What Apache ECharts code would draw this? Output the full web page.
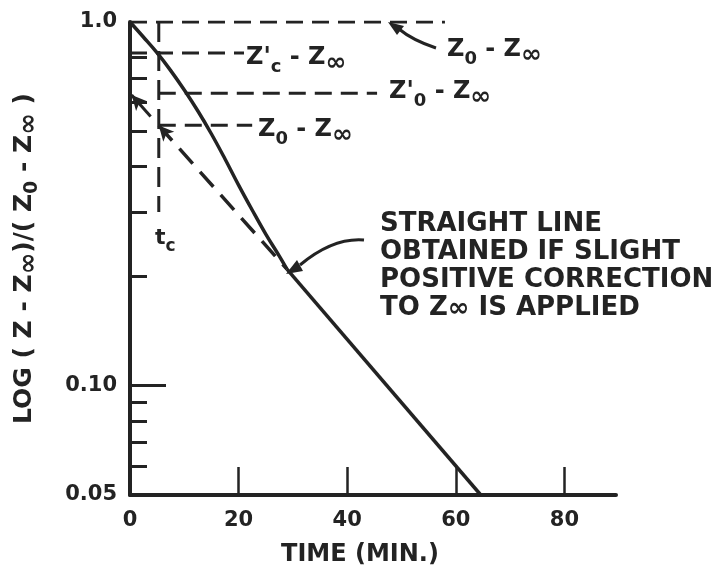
<!DOCTYPE html>
<html><head><meta charset="utf-8">
<script src="https://cdn.jsdelivr.net/npm/echarts@6/dist/echarts.min.js"></script>
<style>html,body{margin:0;padding:0;background:#fff}#c{width:727px;height:567px}</style>
</head><body><div id="c"></div>
<script>
// ---- data ----
const xTicks = [0, 20, 40, 60, 80];
const yLabelVals = [0.05, 0.1, 1.0];
const yLabelText = ['0.05', '0.10', '1.0'];
const yShortTicks = [0.06, 0.07, 0.08, 0.09, 0.2, 0.3, 0.4, 0.5, 0.6, 0.7, 0.8];
const yLongTicks = [0.1];
// measured curve (solid)
const tCurve = [0, 2.5, 5, 7.5, 10, 12.5, 15, 17.5, 20, 22.5, 25, 27.5, 28.9];
const vCurve = [1.0, 0.908, 0.822, 0.735, 0.650, 0.569, 0.492, 0.420, 0.356, 0.304, 0.261, 0.227, 0.209];
// straight-line part (solid)
const tStraight = [28.9, 64.6];
const vStraight = [0.209, 0.05];
// dashed extrapolation of straight line back to t_c
const tExtrap = [5.3, 28.9];
const vExtrap = [0.519, 0.209];
// short arrow from line to the axis (Z'0 intercept)
const tAxisArrow = [3.8, 0.3];
const vAxisArrow = [0.55, 0.63];
// horizontal reference levels
const refLevel = [1.0, 0.822, 0.637, 0.52];
const refFrom = [0, 0, 5.3, 5.3];
const refTo = [58, 21, 45.5, 22.5];
// t_c vertical
const tC = 5.3;
const tcRange = [1.0, 0.3];

// ---- chart ----
const ink = '#232323';
const FONT = 'DejaVu Sans';
const chart = echarts.init(document.getElementById('c'), null, {renderer: 'canvas'});

const series = [];
series.push({type: 'line', data: tCurve.map((t, i) => [t, vCurve[i]]), smooth: 0.4,
  symbol: 'none', lineStyle: {color: ink, width: 3.5}, silent: true});
series.push({type: 'line', data: tStraight.map((t, i) => [t, vStraight[i]]),
  symbol: 'none', lineStyle: {color: ink, width: 3.5}, silent: true});
refLevel.forEach((lv, i) => {
  series.push({type: 'line', data: [[refFrom[i], lv], [refTo[i], lv]], symbol: 'none',
    lineStyle: {color: ink, width: 3, type: [17, 9]}, silent: true});
});
series.push({type: 'line', data: [[tC, tcRange[0]], [tC, tcRange[1]]], symbol: 'none',
  lineStyle: {color: ink, width: 3, type: [20, 9]}, silent: true});
series.push({type: 'line', data: [], silent: true,
  markLine: {silent: true, animation: false, label: {show: false},
    data: [
      [{coord: [tExtrap[0], vExtrap[0]], symbol: 'arrow', symbolSize: [11, 15],
        lineStyle: {color: ink, width: 3.5, type: [20, 11]}},
       {coord: [tExtrap[1], vExtrap[1]], symbol: 'none'}],
      [{coord: [tAxisArrow[0], vAxisArrow[0]], symbol: 'none',
        lineStyle: {color: ink, width: 3, type: 'solid'}},
       {coord: [tAxisArrow[1], vAxisArrow[1]], symbol: 'arrow', symbolSize: [11, 15]}]
    ]}});

const mainRich = (size) => ({
  z: {fontFamily: FONT, fontWeight: 'bold', fontSize: size, lineHeight: size + 12, verticalAlign: 'middle', fill: ink},
  s: {fontFamily: FONT, fontWeight: 'bold', fontSize: Math.round(size * 0.75), lineHeight: size + 12, verticalAlign: 'bottom', fill: ink},
  i: {fontFamily: FONT, fontWeight: 'bold', fontSize: Math.round(size * 1.05), lineHeight: size + 12, verticalAlign: 'bottom', fill: ink}
});

function label(x, y, text, size) {
  return {type: 'text', x: x, y: y, silent: true,
    style: {text: text, rich: mainRich(size), fill: ink, verticalAlign: 'middle', align: 'left'}};
}
function arrowHead(tip, base1, base2) {
  return {type: 'polygon', silent: true, shape: {points: [tip, base1, base2]}, style: {fill: ink}};
}

const option = {
  animation: false,
  backgroundColor: '#fff',
  grid: {left: 130, top: 22, width: 486, height: 473, containLabel: false, outerBoundsMode: 'none'},
  xAxis: {
    type: 'value', min: 0, max: 89.5,
    name: 'TIME (MIN.)', nameLocation: 'middle', nameGap: 48,
    nameTextStyle: {fontFamily: FONT, fontWeight: 'bold', fontSize: 24, color: ink, padding: [0, 26, 0, 0]},
    axisLine: {onZero: false, lineStyle: {color: ink, width: 4}},
    axisTick: {inside: true, length: 28, customValues: xTicks.slice(1), lineStyle: {color: ink, width: 2.5}},
    axisLabel: {customValues: xTicks, margin: 15, fontFamily: FONT, fontWeight: 'bold', fontSize: 21, color: ink},
    splitLine: {show: false}
  },
  yAxis: [{
    type: 'log', logBase: 10, min: 0.05, max: 1.0,
    name: 'LOG ( Z - Z{i|∞})/( Z{s|0} - Z{i|∞} )', nameLocation: 'middle', nameRotate: 90, nameGap: 88,
    nameTextStyle: {fontFamily: FONT, fontWeight: 'bold', fontSize: 25, color: ink,
      rich: {
        s: {fontFamily: FONT, fontWeight: 'bold', fontSize: 19, color: ink, verticalAlign: 'bottom', lineHeight: 36},
        i: {fontFamily: FONT, fontWeight: 'bold', fontSize: 26, color: ink, verticalAlign: 'bottom', lineHeight: 36}
      }},
    axisLine: {lineStyle: {color: ink, width: 4}},
    axisTick: {inside: true, length: 17, customValues: yShortTicks, lineStyle: {color: ink, width: 3}},
    axisLabel: {customValues: yLabelVals, margin: 13, fontFamily: FONT, fontWeight: 'bold', fontSize: 21, color: ink,
      formatter: (v) => { const i = yLabelVals.findIndex(q => Math.abs(q - v) < 1e-9); return i >= 0 ? yLabelText[i] : ''; }},
    splitLine: {show: false}, minorTick: {show: false}
  }, {
    type: 'log', logBase: 10, min: 0.05, max: 1.0, position: 'left',
    axisLine: {show: false},
    axisTick: {inside: true, length: 36, customValues: yLongTicks, lineStyle: {color: ink, width: 3}},
    axisLabel: {show: false}, splitLine: {show: false}
  }],
  series: series,
  graphic: [
    // top arrow to Z0-Zinf level
    {type: 'bezierCurve', silent: true, shape: {x1: 436, y1: 48, x2: 399, y2: 29, cpx1: 415, cpy1: 41, cpx2: 405, cpy2: 34},
      style: {stroke: ink, lineWidth: 3, fill: null}},
    arrowHead([388, 22], [404, 26], [397, 35]),
    // arrow to the junction
    {type: 'bezierCurve', silent: true, shape: {x1: 364, y1: 240, x2: 300, y2: 265, cpx1: 340, cpy1: 238, cpx2: 318, cpy2: 250},
      style: {stroke: ink, lineWidth: 3, fill: null}},
    arrowHead([286, 274], [303, 271], [297, 260]),
    label(447, 50, "{z|Z}{s|0}{z| - Z}{i|∞}", 24),
    label(246, 58, "{z|Z'}{s|c}{z| - Z}{i|∞}", 24),
    label(389, 92, "{z|Z'}{s|0}{z| - Z}{i|∞}", 24),
    label(258, 130, "{z|Z}{s|0}{z| - Z}{i|∞}", 24),
    label(155, 238, "{z|t}{s|c}", 22),
    {type: 'text', x: 380, y: 210, silent: true,
      style: {text: "{z|STRAIGHT LINE}\n{z|OBTAINED IF SLIGHT}\n{z|POSITIVE CORRECTION}\n{z|TO Z}{i|∞}{z| IS APPLIED}",
        rich: {
          z: {fontFamily: FONT, fontWeight: 'bold', fontSize: 26, lineHeight: 28, verticalAlign: 'middle', fill: ink},
          i: {fontFamily: FONT, fontWeight: 'bold', fontSize: 26, lineHeight: 28, verticalAlign: 'bottom', fill: ink}
        }, fill: ink, align: 'left', verticalAlign: 'top'}}
  ]
};
chart.setOption(option);
</script>
</body></html>
